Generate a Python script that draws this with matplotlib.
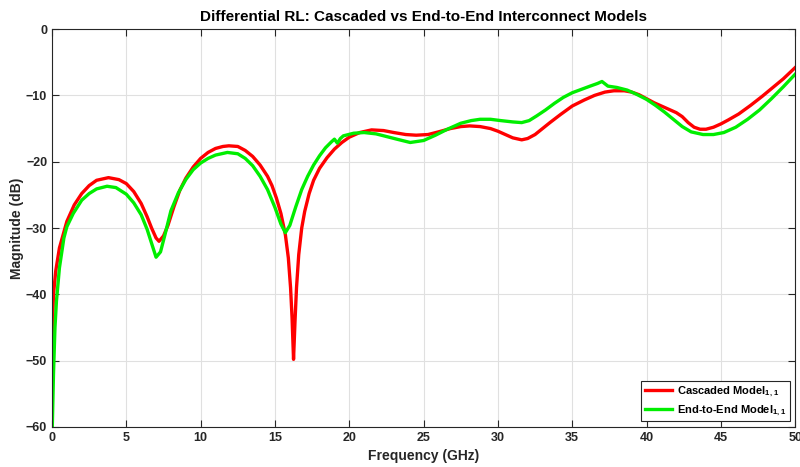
import matplotlib
matplotlib.use('Agg')
import matplotlib.pyplot as plt

plt.rcParams['font.family'] = ['Liberation Sans', 'DejaVu Sans']
plt.rcParams['font.weight'] = 'bold'
plt.rcParams['mathtext.fontset'] = 'custom'
plt.rcParams['mathtext.rm'] = 'Liberation Sans:bold'
plt.rcParams['mathtext.bf'] = 'Liberation Sans:bold'
plt.rcParams['mathtext.default'] = 'bf'

# Cascaded model (red)
f_casc = [0.0, 0.1, 0.25, 0.5, 1.0, 1.5, 2.0, 2.5, 3.0, 3.8, 4.5, 5.0, 5.5, 6.0, 6.4, 6.7, 7.0, 7.2,
          7.5, 7.8, 8.2, 8.6, 9.0, 9.5, 10.0, 10.5, 11.0, 11.5, 11.9, 12.5, 13.0, 13.5, 14.0, 14.5,
          14.8, 15.1, 15.4, 15.7, 15.9, 16.05, 16.15, 16.25, 16.35, 16.45, 16.6, 16.8, 17.0, 17.3,
          17.6, 18.0, 18.5, 19.0, 19.5, 20.0, 20.7, 21.5, 22.3, 23.0, 23.8, 24.5, 25.3, 26.0, 26.8,
          27.5, 28.1, 28.8, 29.5, 30.0, 30.5, 31.0, 31.6, 32.0, 32.5, 33.0, 33.5, 34.2, 35.0, 35.8,
          36.5, 37.2, 37.8, 38.5, 39.0, 39.5, 40.0, 40.5, 41.0, 41.5, 42.0, 42.4, 42.8, 43.2, 43.6,
          44.0, 44.5, 45.0, 45.5, 46.2, 47.0, 47.8, 48.5, 49.2, 50.0]
rl_casc = [-47.0, -40.0, -36.5, -33.0, -29.0, -26.5, -24.8, -23.6, -22.8, -22.4, -22.7, -23.3, -24.5,
           -26.3, -28.3, -30.0, -31.5, -32.0, -31.2, -29.6, -26.8, -24.3, -22.5, -20.8, -19.5, -18.6,
           -18.0, -17.7, -17.6, -17.7, -18.3, -19.2, -20.5, -22.2, -23.6, -25.5, -27.8, -31.0, -34.5,
           -39.0, -43.5, -49.8, -44.0, -39.0, -34.0, -30.0, -27.5, -24.8, -22.8, -21.0, -19.4, -18.1,
           -17.1, -16.3, -15.6, -15.2, -15.3, -15.6, -15.9, -16.0, -15.9, -15.5, -15.0, -14.7, -14.6,
           -14.7, -15.0, -15.4, -15.9, -16.4, -16.7, -16.5, -15.9, -15.0, -14.1, -12.9, -11.6, -10.7,
           -10.0, -9.5, -9.3, -9.3, -9.5, -9.9, -10.5, -11.1, -11.6, -12.1, -12.6, -13.2, -14.1, -14.8,
           -15.1, -15.1, -14.8, -14.3, -13.7, -12.8, -11.5, -10.1, -8.8, -7.5, -5.8]

# End-to-end model (green)
f_e2e = [0.02, 0.1, 0.2, 0.3, 0.5, 0.8, 1.0, 1.43, 2.0, 2.5, 3.0, 3.7, 4.3, 5.0, 5.5, 6.0, 6.4, 6.7,
         7.0, 7.3, 7.6, 8.0, 8.5, 9.0, 9.5, 10.0, 10.5, 11.0, 11.8, 12.5, 13.0, 13.5, 14.0, 14.5,
         15.0, 15.4, 15.7, 16.0, 16.4, 16.8, 17.2, 17.6, 18.0, 18.4, 18.8, 19.0, 19.2, 19.4, 19.6,
         20.3, 21.0, 21.8, 22.5, 23.2, 24.1, 25.0, 25.8, 26.6, 27.5, 28.2, 28.8, 29.5, 30.2, 31.0,
         31.6, 32.1, 32.6, 33.2, 33.8, 34.4, 35.0, 35.6, 36.2, 36.7, 37.0, 37.4, 38.0, 38.7, 39.3,
         40.0, 40.6, 41.2, 41.8, 42.4, 43.0, 43.8, 44.5, 45.2, 46.0, 46.8, 47.6, 48.4, 49.2, 50.0]
rl_e2e = [-60.0, -52.0, -45.0, -41.0, -36.0, -31.5, -29.8, -27.8, -25.8, -24.8, -24.1, -23.7, -23.9,
          -24.9, -26.2, -28.0, -30.2, -32.3, -34.4, -33.6, -31.0, -27.4, -24.7, -22.7, -21.2, -20.2,
          -19.5, -19.0, -18.6, -18.8, -19.5, -20.6, -22.2, -24.2, -26.9, -29.4, -30.7, -29.6, -26.8,
          -24.2, -22.2, -20.5, -19.1, -17.9, -17.0, -16.6, -17.2, -16.5, -16.1, -15.7, -15.6, -15.8,
          -16.2, -16.6, -17.1, -16.8, -16.0, -15.1, -14.2, -13.8, -13.6, -13.6, -13.8, -14.0, -14.1,
          -13.8, -13.1, -12.2, -11.2, -10.3, -9.6, -9.1, -8.6, -8.2, -7.9, -8.6, -8.8, -9.2, -9.8,
          -10.6, -11.5, -12.5, -13.6, -14.7, -15.5, -15.9, -15.9, -15.6, -14.8, -13.6, -12.2, -10.5,
          -8.7, -6.8]

fig = plt.figure(figsize=(8, 4.67), dpi=100)
ax = fig.add_axes([0.065, 0.0857, 0.929, 0.852])

ax.plot(f_casc, rl_casc, color='#ff0000', lw=2.4, label='Cascaded Model$_{1,1}$')
ax.plot(f_e2e, rl_e2e, color='#00ee00', lw=2.4, label='End-to-End Model$_{1,1}$')

ax.set_xlim(0, 50)
ax.set_ylim(-60, 0)
ax.set_xticks(range(0, 51, 5))
ax.set_yticks(range(-60, 1, 10))
ax.grid(True, color='#e0e0e0', lw=0.8)
ax.tick_params(direction='in', top=True, right=True, labelsize=9, length=5, width=0.8, colors='#262626')
for lbl in ax.get_xticklabels() + ax.get_yticklabels():
    lbl.set_fontweight('bold')
for s in ax.spines.values():
    s.set_color('#262626')
    s.set_linewidth(0.8)

ax.set_xlabel('Frequency (GHz)', fontsize=10, fontweight='bold', color='#262626')
ax.set_ylabel('Magnitude (dB)', fontsize=10, fontweight='bold', color='#262626', labelpad=1)
ax.set_title('Differential RL: Cascaded vs End-to-End Interconnect Models', fontsize=11, fontweight='bold')

leg = ax.legend(loc='lower right', fontsize=8, fancybox=False, framealpha=1, edgecolor='#262626',
                borderaxespad=0.5, handlelength=2.5, handletextpad=0.4, labelspacing=0.4,
                borderpad=0.3)
leg.get_frame().set_linewidth(0.8)

fig.savefig('out.png', dpi=100)
